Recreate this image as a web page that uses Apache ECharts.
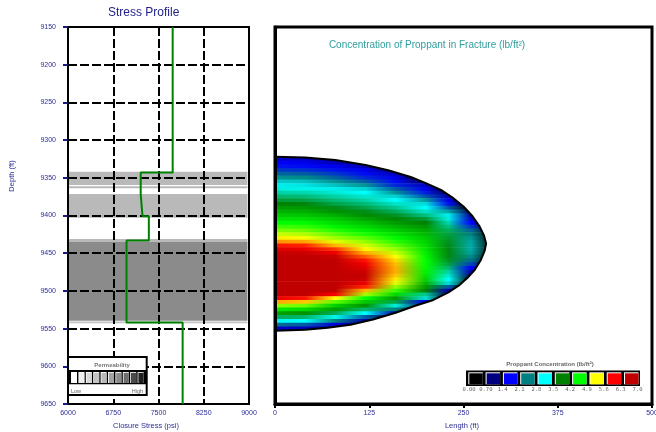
<!DOCTYPE html>
<html><head><meta charset="utf-8">
<script src="https://cdn.jsdelivr.net/npm/echarts@6/dist/echarts.min.js"></script>
<style>html,body{margin:0;padding:0;background:#fff}#c{width:656px;height:432px}</style>
</head><body><div id="c"></div>
<script>
// ---------- axes ----------
const depthTicks = [9150, 9200, 9250, 9300, 9350, 9400, 9450, 9500, 9550, 9600, 9650];
const stressTicks = [6000, 6750, 7500, 8250, 9000];
const lengthTicks = [0, 125, 250, 375, 500];

// ---------- stress profile (psi) by layer ----------
const stressLayerTop = [9150, 9343, 9372, 9401, 9433, 9542];
const stressLayerBottom = [9343, 9372, 9401, 9433, 9542, 9650];
const stressValues = [7735, 7205, 7235, 7340, 6970, 7900];

// ---------- permeability layers (shaded bands) ----------
const permTop = [9342, 9361.3, 9371.5, 9431.2, 9434.8, 9540.5];
const permBottom = [9359.6, 9364, 9403, 9434.8, 9539.5, 9543];
const permLevel = [4, 4, 4, 4, 6, 3];          // 0 = low ... 9 = high

// ---------- fracture outline (length ft, depth ft) ----------
const outlineLength = [0, 40, 80, 120, 150, 180, 200, 220, 235, 250, 262, 271, 277, 280, 278, 273, 265, 255, 245, 230, 210, 185, 160, 130, 100, 70, 40, 0];
const outlineDepth = [9322, 9323, 9326.5, 9333, 9340, 9349, 9357, 9366, 9376, 9388, 9401, 9414, 9426, 9437, 9447, 9459, 9472, 9483, 9492, 9502, 9512, 9520, 9529, 9538, 9545, 9549, 9551.5, 9553];

// ---------- proppant concentration (lb/ft2) ----------
const concDepths = [9325,9330,9335,9340,9345,9350,9355,9360,9365,9370,9375,9380,9385,9390,9395,9400,9405,9410,9415,9420,9425,9430,9435,9440,9445,9450,9455,9460,9465,9470,9475,9480,9485,9490,9495,9500,9505,9510,9515,9520,9525,9530,9535,9540,9545,9550];
const concLengths = [0, 40, 80, 120, 160, 200, 230, 260, 290];
const concAt0 = [1.1,1.35,1.5,1.7,1.95,2.2,2.5,2.72,2.9,3.05,3.2,3.35,3.5,3.65,3.78,3.9,4.05,4.2,4.38,4.55,4.75,4.95,5.2,5.55,5.95,6.25,6.45,6.55,6.6,6.65,6.65,6.65,6.6,6.6,6.55,6.5,6.4,5.8,5.15,4.6,4.1,3.7,3.25,2.85,2.0,1.1];
const concAt40 = [1.05,1.3,1.45,1.65,1.9,2.15,2.45,2.65,2.86,3.02,3.17,3.32,3.47,3.62,3.75,3.88,4.02,4.17,4.33,4.5,4.68,4.87,5.15,5.5,5.85,6.15,6.38,6.48,6.55,6.6,6.6,6.6,6.58,6.55,6.5,6.45,6.3,5.55,5.05,4.5,4.0,3.6,3.2,2.8,1.9,1.05];
const concAt80 = [0.7,1.0,1.3,1.5,1.7,1.92,2.2,2.45,2.7,2.92,3.05,3.18,3.3,3.44,3.6,3.75,3.9,4.02,4.15,4.3,4.47,4.63,4.82,5.1,5.45,5.8,6.2,6.35,6.42,6.47,6.5,6.5,6.48,6.42,6.37,6.32,5.7,4.9,4.45,3.95,3.65,3.25,2.85,2.1,1.2,0.6];
const concAt120 = [0,0.6,1.0,1.3,1.45,1.62,1.9,2.2,2.55,2.8,2.93,3.05,3.18,3.3,3.43,3.56,3.7,3.85,3.98,4.12,4.27,4.45,4.6,4.77,4.92,5.12,5.35,5.55,5.75,5.95,6.15,6.25,6.15,5.82,5.5,5.1,4.65,4.2,3.9,3.6,3.2,2.8,1.9,1.0,0.6,0];
const concAt160 = [0,0,0,0.6,1.0,1.3,1.45,1.6,1.9,2.2,2.55,2.8,2.95,3.1,3.25,3.4,3.53,3.65,3.78,3.92,4.05,4.17,4.3,4.45,4.6,4.75,4.9,5.0,5.08,5.12,5.12,5.05,4.95,4.82,4.6,4.35,4.0,3.65,3.3,2.9,2.1,0.9,0.3,0,0,0];
const concAt200 = [0,0,0,0,0,0,0.5,1.05,1.35,1.55,1.85,2.25,2.6,2.8,2.95,3.15,3.35,3.5,3.62,3.73,3.82,3.9,3.96,4.02,4.07,4.12,4.16,4.2,4.2,4.18,4.13,4.05,3.95,3.8,3.65,3.48,3.1,2.6,1.3,0.5,0,0,0,0,0,0];
const concAt230 = [0,0,0,0,0,0,0,0,0,0.5,1.0,1.3,1.5,1.85,2.3,2.7,2.88,3.02,3.15,3.25,3.32,3.37,3.41,3.44,3.46,3.46,3.45,3.4,3.32,3.2,3.05,2.92,2.8,2.6,1.9,1.0,0.5,0,0,0,0,0,0,0,0,0];
const concAt260 = [0,0,0,0,0,0,0,0,0,0,0,0,0,0,0.5,0.8,1.1,1.4,1.7,1.95,2.1,2.22,2.3,2.33,2.33,2.28,2.15,2.0,1.75,1.4,1.0,0.5,0,0,0,0,0,0,0,0,0,0,0,0,0,0];
const concAt290 = [0,0,0,0,0,0,0,0,0,0,0,0,0,0,0,0,0,0,0,0,0,0,0,0,0,0,0,0,0,0,0,0,0,0,0,0,0,0,0,0,0,0,0,0,0,0];
const concColumns = [concAt0, concAt40, concAt80, concAt120, concAt160, concAt200, concAt230, concAt260, concAt290];

// legend
const concLegendLabels = ['0.00','0.70','1.4','2.1','2.8','3.5','4.2','4.9','5.6','6.3','7.0'];
const concLegendValues = [0, 0.7, 1.4, 2.1, 2.8, 3.5, 4.2, 4.9, 5.6, 6.3];

// ---------- styles ----------
const FONT = 'Liberation Sans, Arial, sans-serif';
const LABEL = '#2d2d96';
const concColors = ['#000000','#000080','#0000ff','#008080','#00ffff','#008000','#00ff00','#ffff00','#ff0000','#c00000'];
const grayPalette = ['#ffffff','#eeeeee','#d8d8d8','#c4c4c4','#b9b9b9','#a2a2a2','#8b8b8b','#6e6e6e','#4a4a4a','#1e1e1e'];

function hexRgb(h){return [parseInt(h.substr(1,2),16),parseInt(h.substr(3,2),16),parseInt(h.substr(5,2),16)];}
const concRgb = concColors.map(hexRgb);
function concColor(v){
  const s = concLegendValues;
  if (v <= s[0]) return 'rgb(' + concRgb[0].join(',') + ')';
  if (v >= s[s.length-1]) return 'rgb(' + concRgb[s.length-1].join(',') + ')';
  let k = 0; while (v > s[k+1]) k++;
  const t = (v - s[k]) / (s[k+1] - s[k]);
  const a = concRgb[k], b = concRgb[k+1];
  return 'rgb(' + [0,1,2].map(j => Math.round(a[j] + (b[j]-a[j])*t)).join(',') + ')';
}

const rowStep = concDepths[1] - concDepths[0];
const chart = echarts.init(document.getElementById('c'), null, {renderer: 'canvas'});

const stressLine = [];
stressValues.forEach((s, i) => { stressLine.push([s, stressLayerTop[i]]); stressLine.push([s, stressLayerBottom[i]]); });

const outlinePts = outlineLength.map((L, i) => [L, outlineDepth[i]]);

const splitDash = {show: true, lineStyle: {color: '#000', width: 2, type: [9, 3]}};
const plain = v => String(v);

// legends as graphics
const graphics = [
  {type: 'text', left: 108, top: 7, style: {text: 'Stress Profile', fill: '#23238c', font: '12px ' + FONT}},
  {type: 'text', x: 146, y: 426, style: {text: 'Closure Stress (psi)', fill: LABEL, font: '7.5px ' + FONT, align: 'center', verticalAlign: 'middle'}},
  {type: 'text', x: 462, y: 426, style: {text: 'Length (ft)', fill: LABEL, font: '7.5px ' + FONT, align: 'center', verticalAlign: 'middle'}},
  {type: 'text', x: 12, y: 176, rotation: Math.PI/2, style: {text: 'Depth (ft)', fill: LABEL, font: '7.5px ' + FONT, align: 'center', verticalAlign: 'middle'}},
  {type: 'text', x: 427, y: 45, style: {text: 'Concentration of Proppant in Fracture (lb/ft²)', fill: '#2f9e9e', font: '10px ' + FONT, align: 'center', verticalAlign: 'middle'}},
  // proppant legend
  {type: 'text', x: 550, y: 364, style: {text: 'Proppant Concentration (lb/ft²)', fill: '#666', font: 'bold 6px ' + FONT, align: 'center', verticalAlign: 'middle'}},
  {type: 'rect', shape: {x: 466, y: 370.5, width: 174, height: 15.5}, style: {fill: '#000'}}
];
concColors.forEach((c, i) => {
  const x = 468.3 + i * 17.3;
  graphics.push({type: 'rect', shape: {x: x, y: 372.3, width: 14.5, height: 12}, style: {fill: '#fff'}});
  graphics.push({type: 'rect', shape: {x: x + 1, y: 373.3, width: 13.5, height: 11}, style: {fill: c}});
});
concLegendLabels.forEach((t, i) => {
  graphics.push({type: 'text', x: 469 + i * 16.85, y: 389.5, style: {text: t, fill: '#666', font: '5.5px DejaVu Sans Mono, monospace', align: 'center', verticalAlign: 'middle'}});
});
// permeability legend
graphics.push({type: 'rect', shape: {x: 68, y: 357, width: 78.7, height: 38}, style: {fill: '#fff', stroke: '#000', lineWidth: 2}, z: 20});
graphics.push({type: 'text', x: 112, y: 365, style: {text: 'Permeability', fill: '#777', font: 'bold 6px ' + FONT, align: 'center', verticalAlign: 'middle'}, z: 21});
graphics.push({type: 'rect', shape: {x: 69, y: 370, width: 77.7, height: 14.3}, style: {fill: '#000'}, z: 21});
grayPalette.forEach((c, i) => {
  const x = 71 + i * 7.4;
  graphics.push({type: 'rect', shape: {x: x, y: 372, width: 6, height: 11}, style: {fill: '#fff'}, z: 22});
  graphics.push({type: 'rect', shape: {x: x + 0.8, y: 372.8, width: 5.2, height: 10.2}, style: {fill: c}, z: 23});
});
graphics.push({type: 'text', x: 71, y: 391, style: {text: 'Low', fill: '#666', font: '5.5px ' + FONT, verticalAlign: 'middle'}, z: 21});
graphics.push({type: 'text', x: 143, y: 391, style: {text: 'High', fill: '#666', font: '5.5px ' + FONT, align: 'right', verticalAlign: 'middle'}, z: 21});

const option = {
  animation: false,
  backgroundColor: '#fff',
  textStyle: {fontFamily: FONT},
  grid: [
    {left: 68, top: 27, width: 181, height: 377, show: true, borderColor: '#000', borderWidth: 2, backgroundColor: 'transparent', containLabel: false, outerBoundsMode: 'none'},
    {left: 275, top: 27, width: 377, height: 377, show: true, borderColor: '#000', borderWidth: 3, backgroundColor: 'transparent', containLabel: false, outerBoundsMode: 'none'}
  ],
  xAxis: [
    {gridIndex: 0, type: 'value', min: stressTicks[0], max: stressTicks[stressTicks.length-1], interval: stressTicks[1]-stressTicks[0], z: 5,
      axisLine: {show: false}, axisTick: {show: false},
      axisLabel: {color: LABEL, fontSize: 7, margin: 6, fontFamily: FONT, formatter: plain}, splitLine: splitDash},
    {gridIndex: 1, type: 'value', min: lengthTicks[0], max: lengthTicks[lengthTicks.length-1], interval: lengthTicks[1]-lengthTicks[0], z: 10,
      axisLine: {show: true, onZero: false, lineStyle: {color: '#000', width: 3}},
      axisTick: {show: true, length: 4, lineStyle: {color: '#000', width: 2}},
      axisLabel: {color: LABEL, fontSize: 7, margin: 6, fontFamily: FONT, formatter: plain}, splitLine: {show: false}}
  ],
  yAxis: [
    {gridIndex: 0, type: 'value', inverse: true, min: depthTicks[0], max: depthTicks[depthTicks.length-1], interval: depthTicks[1]-depthTicks[0], z: 5,
      axisLine: {show: true, onZero: false, lineStyle: {color: '#000', width: 2}},
      axisTick: {show: true, length: 5, lineStyle: {color: '#1a1a80', width: 2}},
      axisLabel: {color: LABEL, fontSize: 7, margin: 12, fontFamily: FONT, formatter: plain}, splitLine: splitDash},
    {gridIndex: 1, type: 'value', inverse: true, min: depthTicks[0], max: depthTicks[depthTicks.length-1], interval: depthTicks[1]-depthTicks[0], z: 10,
      axisLine: {show: true, onZero: false, lineStyle: {color: '#000', width: 3}},
      axisTick: {show: false}, axisLabel: {show: false}, splitLine: {show: false}}
  ],
  series: [
    { // permeability bands
      type: 'custom', xAxisIndex: 0, yAxisIndex: 0, z: 1, silent: true,
      data: permTop.map((t, i) => [stressTicks[0], t, 8975, permBottom[i], permLevel[i]]),
      encode: {x: [0, 2], y: [1, 3]},
      renderItem: function (params, api) {
        const p0 = api.coord([api.value(0), api.value(1)]);
        const p1 = api.coord([api.value(2), api.value(3)]);
        return {type: 'rect', shape: {x: p0[0], y: p0[1], width: p1[0]-p0[0], height: p1[1]-p0[1]}, style: {fill: grayPalette[api.value(4)]}};
      }
    },
    { // stress line
      type: 'line', xAxisIndex: 0, yAxisIndex: 0, z: 10, data: stressLine, symbol: 'none',
      lineStyle: {color: '#008000', width: 2}, silent: true
    },
    { // proppant concentration rows
      type: 'custom', xAxisIndex: 1, yAxisIndex: 1, z: 2, silent: true,
      data: concDepths.map(d => [concLengths[0], d]),
      renderItem: function (params, api) {
        const i = params.dataIndex;
        const d = concDepths[i];
        const L0 = concLengths[0], L1 = concLengths[concLengths.length-1];
        const p0 = api.coord([L0, d - rowStep/2]);
        const p1 = api.coord([L1, d + rowStep/2]);
        const stops = concLengths.map((L, k) => ({offset: (L - L0)/(L1 - L0), color: concColor(concColumns[k][i])}));
        return {type: 'rect', shape: {x: p0[0], y: p0[1] - 0.3, width: p1[0]-p0[0], height: p1[1]-p0[1] + 0.6},
          style: {fill: new echarts.graphic.LinearGradient(0, 0, 1, 0, stops)}};
      }
    },
    { // white mask outside the fracture outline
      type: 'custom', xAxisIndex: 1, yAxisIndex: 1, z: 3, silent: true,
      data: [[0, 9310]],
      renderItem: function (params, api) {
        const pts = [[0, 9310], [300, 9310], [300, 9565], [0, 9565]];
        for (let k = outlinePts.length - 1; k >= 0; k--) pts.push(outlinePts[k]);
        return {type: 'polygon', shape: {points: pts.map(p => api.coord(p))}, style: {fill: '#fff'}};
      }
    },
    { // outline
      type: 'line', xAxisIndex: 1, yAxisIndex: 1, z: 4, data: outlinePts, symbol: 'none',
      lineStyle: {color: '#000', width: 2}, silent: true
    }
  ],
  graphic: graphics
};
chart.setOption(option);
</script></body></html>
